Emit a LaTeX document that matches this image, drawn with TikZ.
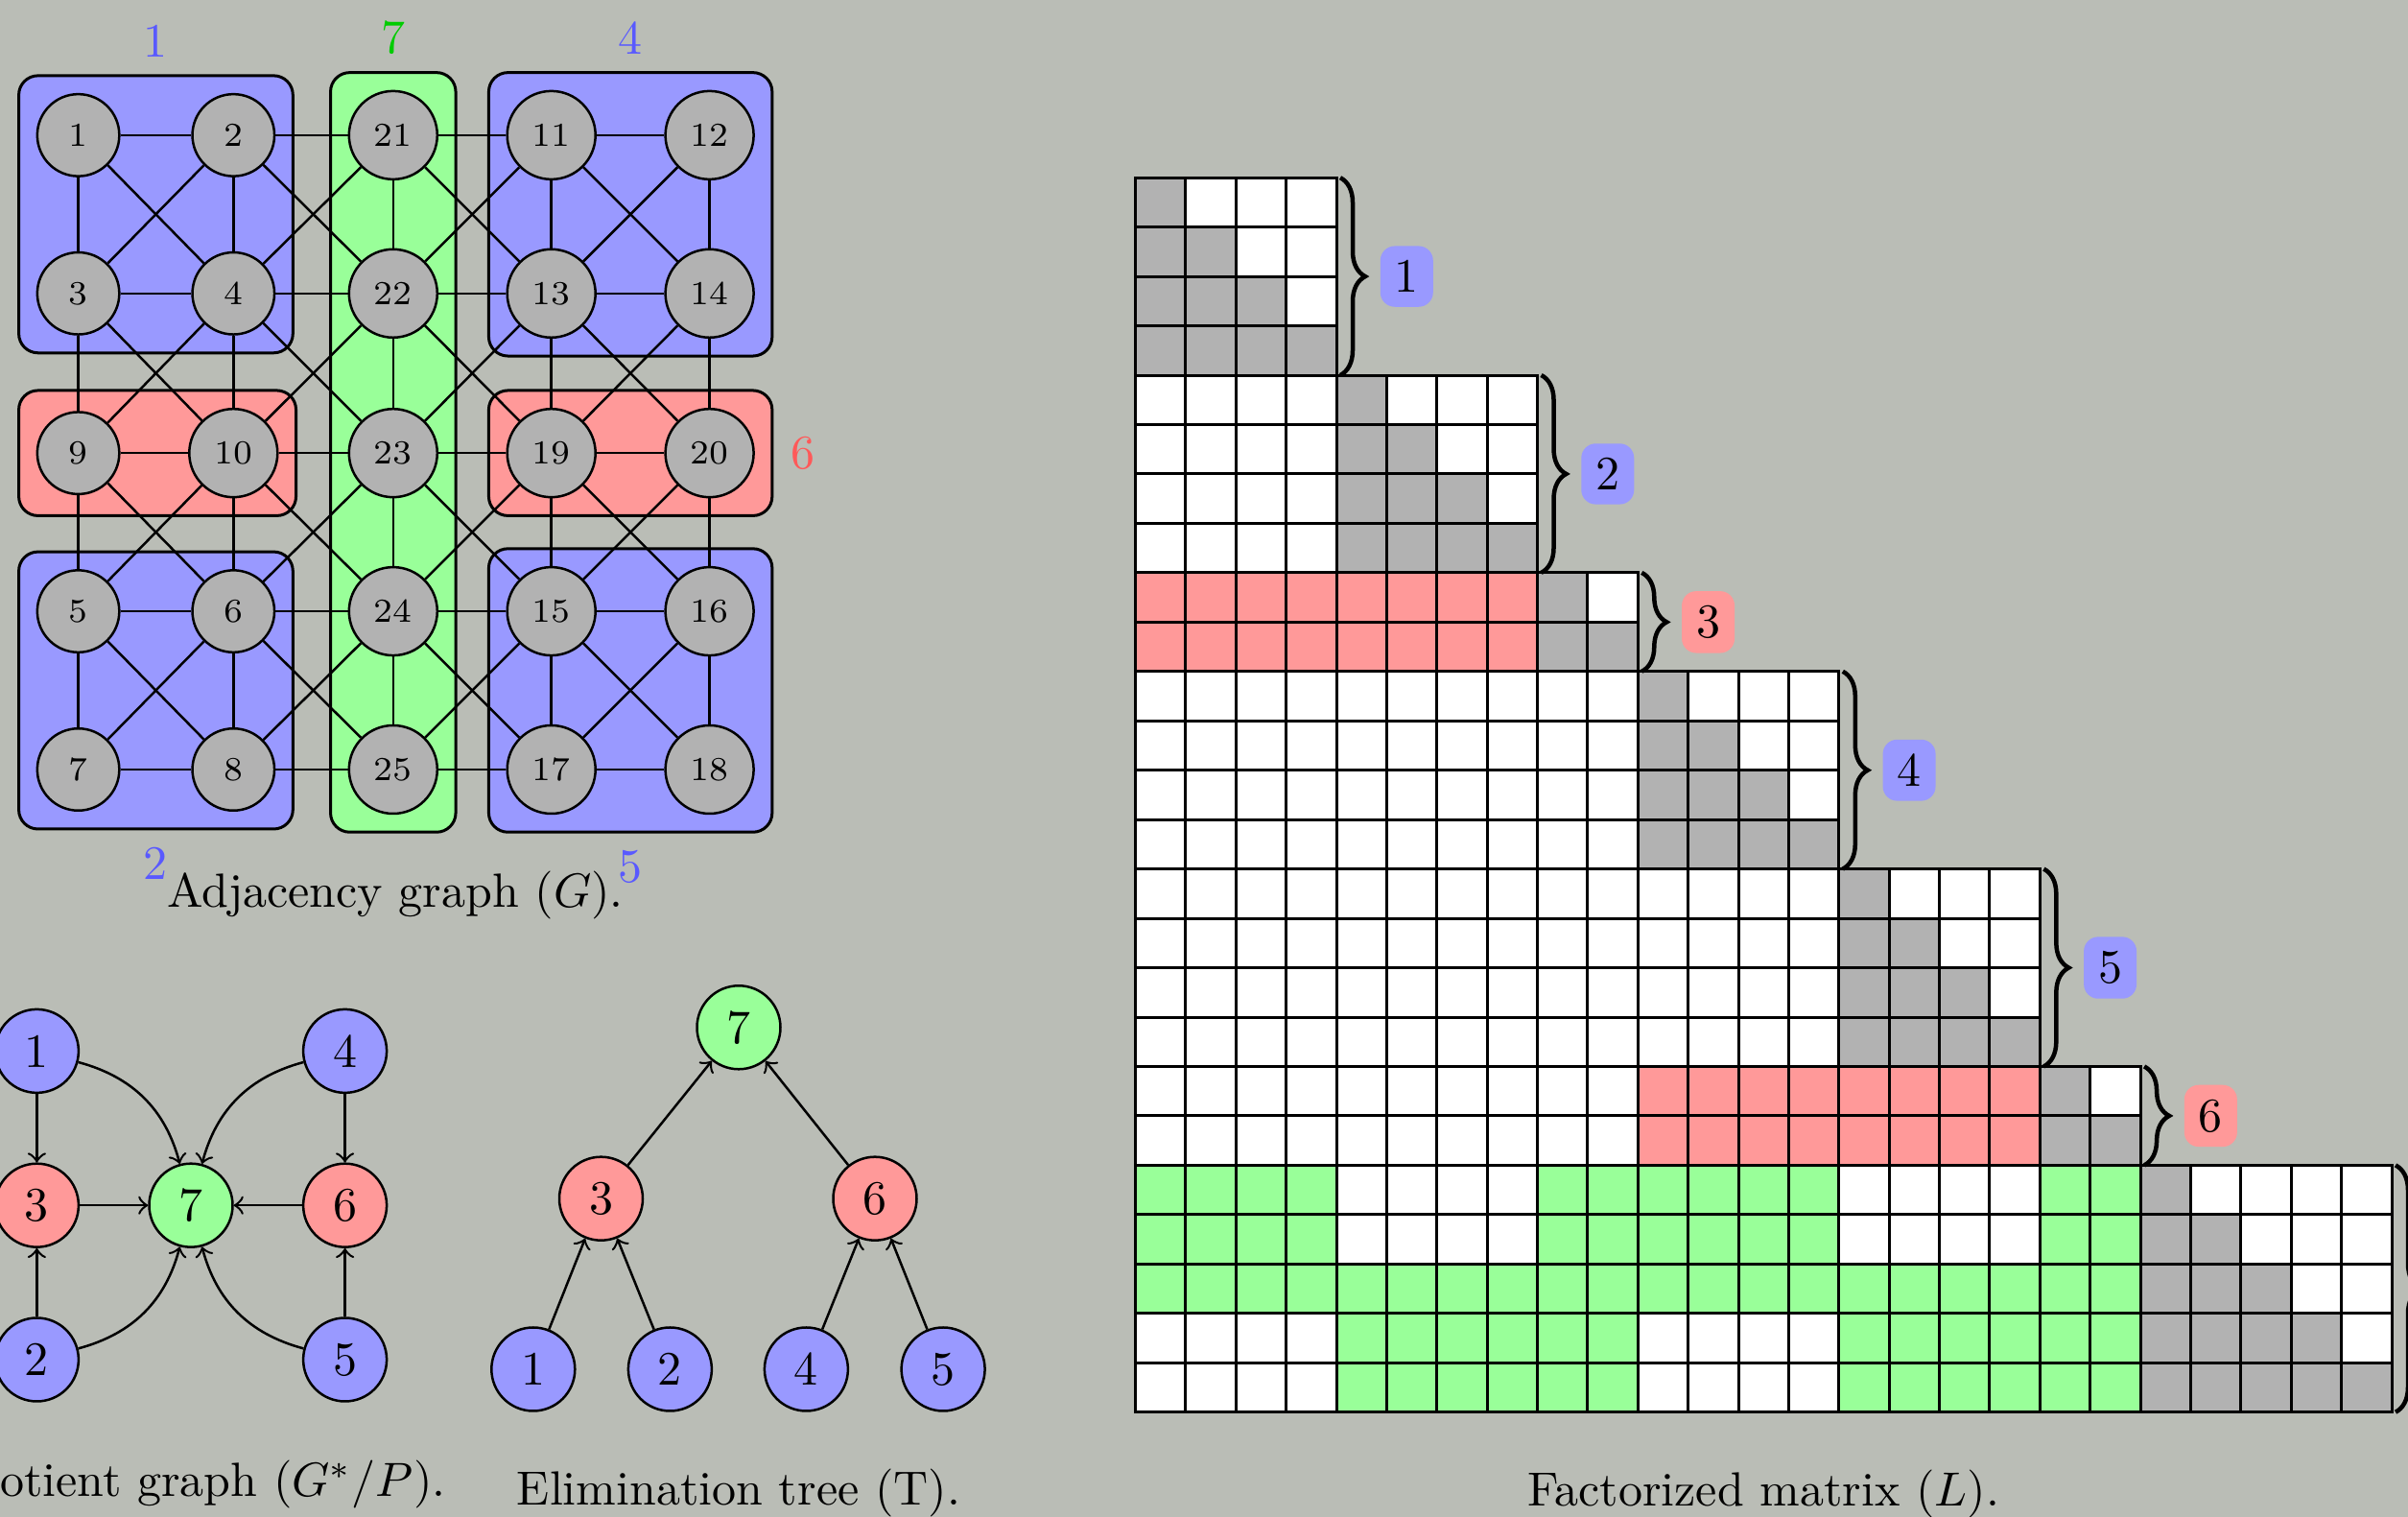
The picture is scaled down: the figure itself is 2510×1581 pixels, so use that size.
\documentclass[tikz,border=0pt]{standalone}
\usetikzlibrary{decorations.pathreplacing,fit,backgrounds}
\definecolor{bgc}{RGB}{186,189,182}
\colorlet{cblue}{blue!40}
\colorlet{cred}{red!40}
\colorlet{cgreen}{green!40}
\colorlet{cgray}{black!30}
\colorlet{tblue}{blue!65}
\colorlet{tred}{red!65}
\colorlet{tgreen}{green!80!black}
\pgfdeclarelayer{bgzero}
\pgfdeclarelayer{bgone}
\pgfsetlayers{bgzero,bgone,main}
\def\mx{1183.5}
\def\my{185.2}
\def\cw{52.38}
\def\ch{51.46}
\newcommand\mseg[5]{%
  \foreach \ri in {#1,...,#2}{\foreach \ci in {#3,...,#4}{%
    \draw[cell,fill=#5] ({\mx+\ci*\cw},{\my+\ri*\ch}) rectangle ++(\cw,\ch);}}}
\newcommand\mdiag[2]{%
  \foreach \ri in {#1,...,#2}{\foreach \ci in {#1,...,#2}{%
    \ifnum\ci>\ri\relax\def\fc{white}\else\def\fc{cgray}\fi
    \draw[cell,fill=\fc] ({\mx+\ci*\cw},{\my+\ri*\ch}) rectangle ++(\cw,\ch);}}}
\newcommand\mbrace[4]{% start, end, label, colour
  \draw[brc] ({\mx+(#2+1)*\cw+4},{\my+#1*\ch}) -- node[blab,fill=#4] (lab#3) {#3} ({\mx+(#2+1)*\cw+4},{\my+(#2+1)*\ch});}
\begin{document}
\begin{tikzpicture}[x=0.2pt,y=-0.2pt,
  gn/.style={circle,draw,fill=cgray,line width=0.5pt,minimum size=17.1pt,inner sep=0pt,font=\scriptsize},
  gnn/.style={gn,minimum size=18.4pt},
  ge/.style={line width=0.5pt},
  grp/.style={draw,rounded corners=4pt,line width=0.6pt,inner sep=3.6pt},
  qn/.style={circle,draw,line width=0.5pt,minimum size=17.4pt,inner sep=0pt},
  qe/.style={->,line width=0.5pt},
  cell/.style={draw,line width=0.6pt},
  brc/.style={decorate,decoration={brace,amplitude=5.2pt},line width=0.9pt},
  blab/.style={rounded corners=3pt,inner sep=3pt,anchor=west,xshift=7.9pt},
  capt/.style={anchor=base}
]
\begin{pgfonlayer}{bgzero}
  \fill[bgc] (0,0) rectangle (2510,1581);
\end{pgfonlayer}
\useasboundingbox (0,0) rectangle (2510,1581);

% ---------- adjacency graph ----------
\node[gn,alias=p00]  (g1)  at (81.6,140.9)  {1};
\node[gn,alias=p01]  (g2)  at (243.3,140.9) {2};
\node[gnn,alias=p02] (g21) at (409.8,140.9) {21};
\node[gnn,alias=p03] (g11) at (574.7,140.9) {11};
\node[gnn,alias=p04] (g12) at (739.6,140.9) {12};
\node[gn,alias=p10]  (g3)  at (81.6,305.8)  {3};
\node[gn,alias=p11]  (g4)  at (243.3,305.8) {4};
\node[gnn,alias=p12] (g22) at (409.8,305.8) {22};
\node[gnn,alias=p13] (g13) at (574.7,305.8) {13};
\node[gnn,alias=p14] (g14) at (739.6,305.8) {14};
\node[gn,alias=p20]  (g9)  at (81.6,472.2)  {9};
\node[gnn,alias=p21] (g10) at (243.3,472.2) {10};
\node[gnn,alias=p22] (g23) at (409.8,472.2) {23};
\node[gnn,alias=p23] (g19) at (574.7,472.2) {19};
\node[gnn,alias=p24] (g20) at (739.6,472.2) {20};
\node[gn,alias=p30]  (g5)  at (81.6,637.1)  {5};
\node[gn,alias=p31]  (g6)  at (243.3,637.1) {6};
\node[gnn,alias=p32] (g24) at (409.8,637.1) {24};
\node[gnn,alias=p33] (g15) at (574.7,637.1) {15};
\node[gnn,alias=p34] (g16) at (739.6,637.1) {16};
\node[gn,alias=p40]  (g7)  at (81.6,802)    {7};
\node[gn,alias=p41]  (g8)  at (243.3,802)   {8};
\node[gnn,alias=p42] (g25) at (409.8,802)   {25};
\node[gnn,alias=p43] (g17) at (574.7,802)   {17};
\node[gnn,alias=p44] (g18) at (739.6,802)   {18};

\foreach \ri in {0,...,4}{\foreach \ci [evaluate=\ci as \cn using int(\ci+1)] in {0,...,3}{
  \draw[ge] (p\ri\ci) -- (p\ri\cn);}}
\foreach \ri [evaluate=\ri as \rn using int(\ri+1)] in {0,...,3}{\foreach \ci in {0,...,4}{
  \draw[ge] (p\ri\ci) -- (p\rn\ci);}}
\foreach \ri [evaluate=\ri as \rn using int(\ri+1)] in {0,...,3}{\foreach \ci [evaluate=\ci as \cn using int(\ci+1)] in {0,...,3}{
  \draw[ge] (p\ri\ci) -- (p\rn\cn);
  \draw[ge] (p\ri\cn) -- (p\rn\ci);}}

\begin{pgfonlayer}{bgone}
  \node[grp,fill=cblue,fit=(g1)(g4),label={[text=tblue]above:1}] (B1) {};
  \node[grp,fill=cgreen,fit=(g21)(g25),label={[text=tgreen]above:7}] (B7) {};
  \node[grp,fill=cblue,fit=(g11)(g14),label={[text=tblue]above:4}] (B4) {};
  \node[grp,fill=cred,fit=(g9)(g10),label={[text=tred]left:3}] (B3) {};
  \node[grp,fill=cred,fit=(g19)(g20),label={[text=tred]right:6}] (B6) {};
  \node[grp,fill=cblue,fit=(g5)(g8),label={[text=tblue]below:2}] (B2) {};
  \node[grp,fill=cblue,fit=(g15)(g18),label={[text=tblue]below:5}] (B5) {};
\end{pgfonlayer}
\node[capt] (capG) at (412,946) {Adjacency graph ($G$).};

% ---------- quotient graph ----------
\node[qn,fill=cblue]  (q1) at (38.4,1095.4)  {1};
\node[qn,fill=cblue]  (q4) at (359.6,1095.4) {4};
\node[qn,fill=cred]   (q3) at (38.4,1256.2)  {3};
\node[qn,fill=cgreen] (q7) at (199,1256.2)   {7};
\node[qn,fill=cred]   (q6) at (359.6,1256.2) {6};
\node[qn,fill=cblue]  (q2) at (38.4,1417)    {2};
\node[qn,fill=cblue]  (q5) at (359.6,1417)   {5};
\draw[qe] (q1) -- (q3);
\draw[qe] (q2) -- (q3);
\draw[qe] (q3) -- (q7);
\draw[qe] (q6) -- (q7);
\draw[qe] (q4) -- (q6);
\draw[qe] (q5) -- (q6);
\draw[qe] (q1) to[bend left=30] (q7);
\draw[qe] (q4) to[bend right=30] (q7);
\draw[qe] (q2) to[bend right=30] (q7);
\draw[qe] (q5) to[bend left=30] (q7);
\node[capt] (capQ) at (199,1559.5) {Quotient graph ($G^*/P$).};

% ---------- elimination tree ----------
\node[qn,fill=cgreen] (t7) at (770,1070.8)   {7};
\node[qn,fill=cred]   (t3) at (626.5,1249.2) {3};
\node[qn,fill=cred]   (t6) at (912,1249.2)   {6};
\node[qn,fill=cblue]  (t1) at (555.8,1427)   {1};
\node[qn,fill=cblue]  (t2) at (698.4,1427)   {2};
\node[qn,fill=cblue]  (t4) at (840.4,1427)   {4};
\node[qn,fill=cblue]  (t5) at (983.1,1427)   {5};
\draw[qe] (t1) -- (t3);
\draw[qe] (t2) -- (t3);
\draw[qe] (t4) -- (t6);
\draw[qe] (t5) -- (t6);
\draw[qe] (t3) -- (t7);
\draw[qe] (t6) -- (t7);
\node[capt] (capT) at (770,1568.7) {Elimination tree (T).};

% ---------- factorized matrix ----------
\mdiag{0}{3}
\mseg{4}{7}{0}{3}{white}
\mdiag{4}{7}
\mseg{8}{9}{0}{7}{cred}
\mdiag{8}{9}
\mseg{10}{13}{0}{9}{white}
\mdiag{10}{13}
\mseg{14}{17}{0}{13}{white}
\mdiag{14}{17}
\mseg{18}{19}{0}{9}{white}
\mseg{18}{19}{10}{17}{cred}
\mdiag{18}{19}
\mseg{20}{21}{0}{3}{cgreen}
\mseg{20}{21}{4}{7}{white}
\mseg{20}{21}{8}{13}{cgreen}
\mseg{20}{21}{14}{17}{white}
\mseg{20}{21}{18}{19}{cgreen}
\mseg{22}{22}{0}{19}{cgreen}
\mseg{23}{24}{0}{3}{white}
\mseg{23}{24}{4}{9}{cgreen}
\mseg{23}{24}{10}{13}{white}
\mseg{23}{24}{14}{19}{cgreen}
\mdiag{20}{24}

\mbrace{0}{3}{1}{cblue}
\mbrace{4}{7}{2}{cblue}
\mbrace{8}{9}{3}{cred}
\mbrace{10}{13}{4}{cblue}
\mbrace{14}{17}{5}{cblue}
\mbrace{18}{19}{6}{cred}
\mbrace{20}{24}{7}{cgreen}
\node[capt] (capL) at (1838,1569.8) {Factorized matrix ($L$).};
\end{tikzpicture}
\end{document}
